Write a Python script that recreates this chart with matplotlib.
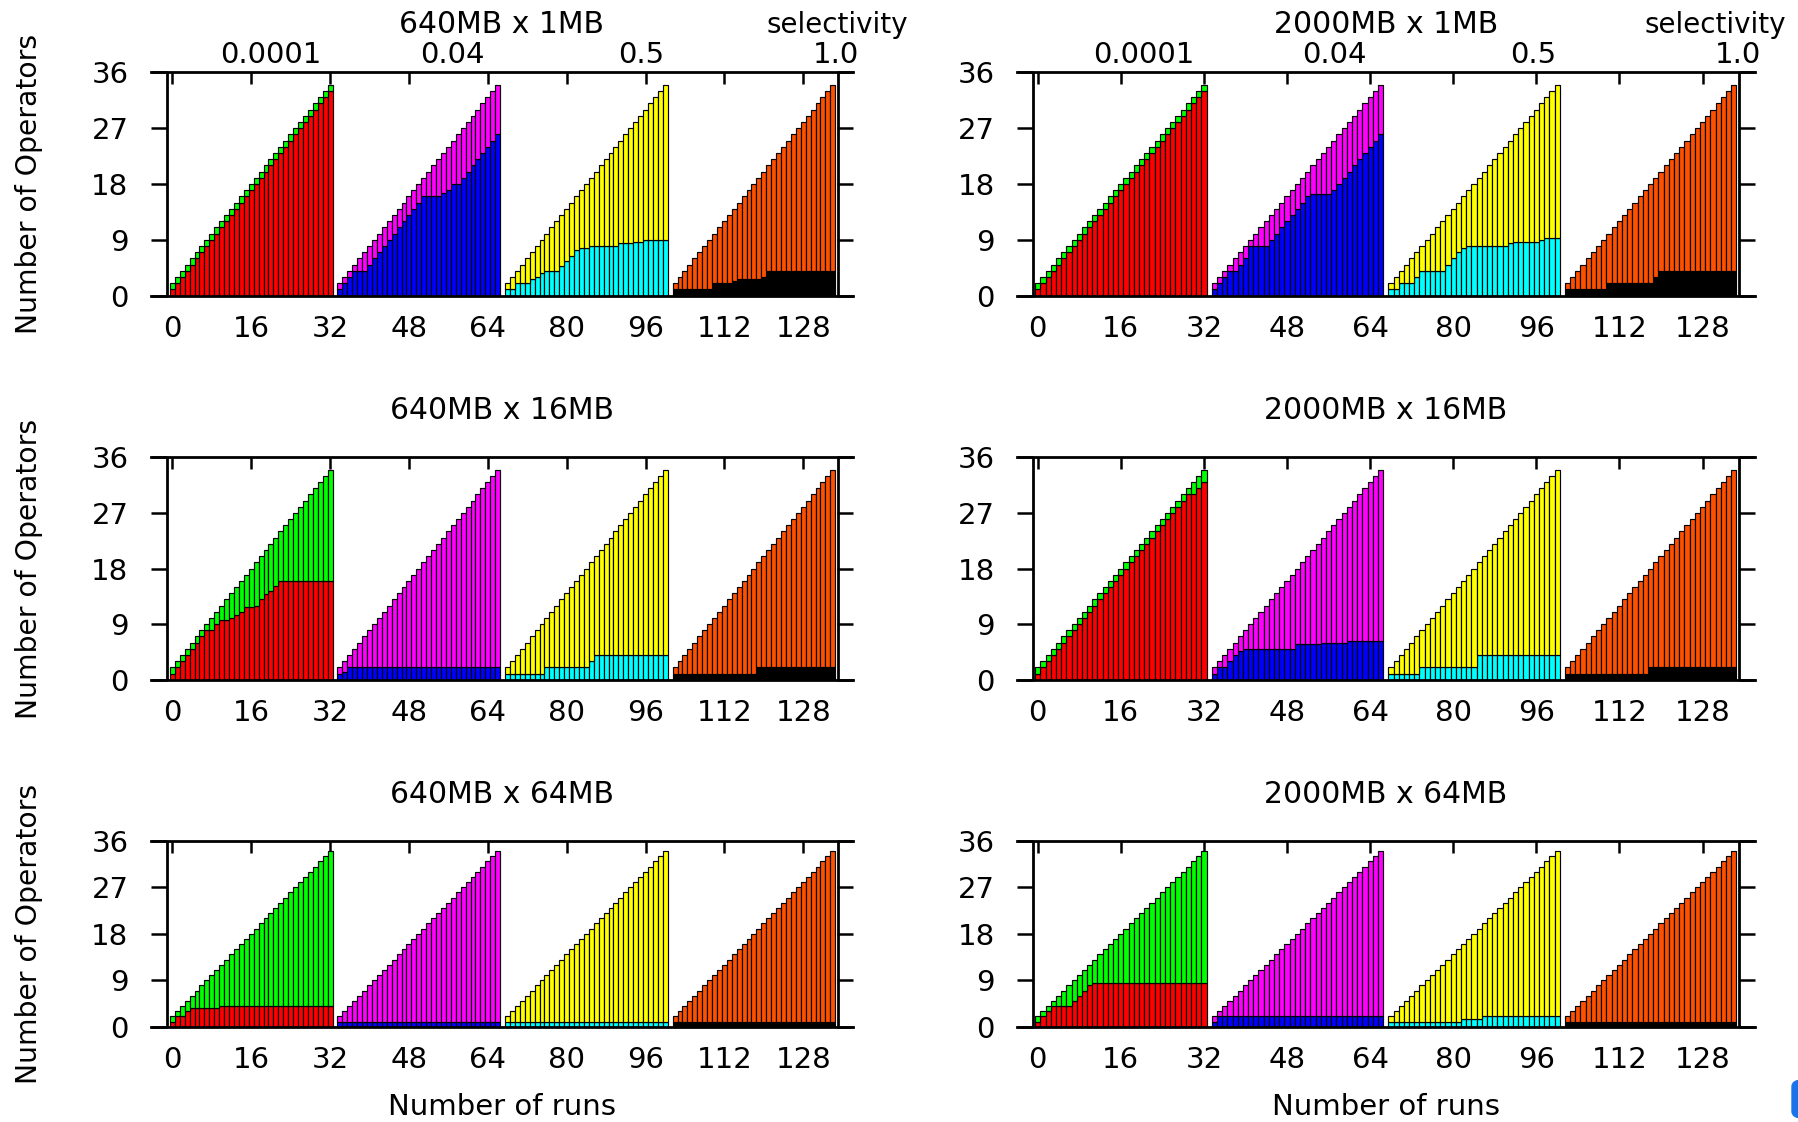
import numpy as np
import matplotlib.pyplot as plt
from matplotlib.patches import FancyBboxPatch

plt.rcParams['font.family'] = ['DejaVu Sans']

# ---------- DATA ----------
# total operators per run (same in every group)
TOTAL = [2, 3, 4, 5, 6, 7, 8, 9, 10, 11, 12, 13, 14, 15, 16, 17, 18, 19, 20, 21, 22,
         23, 24, 25, 26, 27, 28, 29, 30, 31, 32, 33, 34]
SELECTIVITY = ['0.0001', '0.04', '0.5', '1.0']
XTICKS = [0, 16, 32, 48, 64, 80, 96, 112, 128]
YTICKS = [0, 9, 18, 27, 36]
# (lower, upper) colour per selectivity group
GROUP_COLORS = [('#ff0000', '#00ff00'), ('#0000ff', '#ff00ff'),
                ('#00ffff', '#ffff00'), ('#000000', '#ff5000')]

# lower segment of each stacked bar, one list per group
a640_1_g1 = [1, 2, 3, 4, 5, 6, 7, 8, 9, 10, 11, 12, 13, 14, 15, 16, 17, 18, 19, 20, 21,
             22, 23, 24, 25, 26, 27, 28, 29, 30, 31, 32, 33]
a640_1_g2 = [1, 2, 3, 4, 4, 4, 5, 6, 7, 8, 9, 10, 11, 12, 13, 14, 15, 16, 16, 16, 16,
             16.5, 17, 18, 18, 19, 20, 21, 22, 23, 24, 25, 26]
a640_1_g3 = [1, 1, 2, 2, 2, 2.7, 3, 3.7, 4, 4, 4, 4.7, 5.6, 6.3, 7.3, 7.7, 7.7, 8, 8, 8,
             8, 8, 8, 8.4, 8.4, 8.4, 8.7, 8.7, 9, 9, 9, 9, 9]
a640_1_g4 = [1, 1, 1, 1, 1, 1, 1, 1, 2, 2, 2, 2, 2.4, 2.7, 2.7, 2.7, 2.7, 2.7, 3, 4, 4,
             4, 4, 4, 4, 4, 4, 4, 4, 4, 4, 4, 4]

a2000_1_g1 = [1, 2, 3, 4, 5, 6, 7, 8, 9, 10, 11, 12, 13, 14, 15, 16, 17, 18, 19, 20, 21,
              22, 23, 24, 25, 26, 27, 28, 29, 30, 31, 32, 33]
a2000_1_g2 = [1, 2, 3, 4, 4, 5, 6, 8, 8, 8, 8, 9, 10, 11, 12, 13, 14, 15, 16, 16.4, 16.4,
              16.4, 16.4, 17, 18, 19, 20, 21, 22, 23, 24, 25, 26]
a2000_1_g3 = [1, 1, 2, 2, 2, 3, 4, 4, 4, 4, 4, 5, 6, 7, 7.7, 8, 8, 8, 8, 8, 8, 8, 8,
              8.4, 8.7, 8.7, 8.7, 8.7, 8.7, 9, 9.3, 9.3, 9.3]
a2000_1_g4 = [1, 1, 1, 1, 1, 1, 1, 1, 2, 2, 2, 2, 2, 2, 2, 2, 2, 3, 4, 4, 4, 4, 4, 4, 4,
              4, 4, 4, 4, 4, 4, 4, 4]

a640_16_g1 = [1, 2, 3, 4, 5, 6, 7, 8, 8, 9, 9.7, 9.7, 10, 10.4, 11, 11.7, 11.7, 12, 13,
              13.8, 14.4, 15.1, 16, 16, 16, 16, 16, 16, 16, 16, 16, 16, 16]
a640_16_g2 = [1, 1.2, 2, 2, 2, 2, 2, 2, 2, 2, 2, 2, 2, 2, 2, 2, 2, 2, 2, 2, 2, 2, 2, 2,
              2, 2, 2, 2, 2, 2, 2, 2, 2]
a640_16_g3 = [1, 1, 1, 1, 1, 1, 1, 1, 2, 2, 2, 2, 2, 2, 2, 2, 2, 3, 4, 4, 4, 4, 4, 4, 4,
              4, 4, 4, 4, 4, 4, 4, 4]
a640_16_g4 = [1, 1, 1, 1, 1, 1, 1, 1, 1, 1, 1, 1, 1, 1, 1, 1, 1, 2, 2, 2, 2, 2, 2, 2, 2,
              2, 2, 2, 2, 2, 2, 2, 2]

a2000_16_g1 = [1, 2, 3, 4, 5, 6, 7, 8, 9, 10, 11, 12, 13, 14, 15, 16, 17, 18, 19, 20, 21,
               22, 23, 24, 25, 26, 27, 28, 29, 30, 30, 31, 32]
a2000_16_g2 = [1, 2, 2, 3, 4, 4.7, 5, 5, 5, 5, 5, 5, 5, 5, 5, 5, 5.8, 5.8, 5.8, 5.8, 5.8,
               6, 6, 6, 6, 6, 6.3, 6.3, 6.3, 6.3, 6.3, 6.3, 6.3]
a2000_16_g3 = [1, 1, 1, 1, 1, 1, 2, 2, 2, 2, 2, 2, 2, 2, 2, 2, 2, 4, 4, 4, 4, 4, 4, 4, 4,
               4, 4, 4, 4, 4, 4, 4, 4]
a2000_16_g4 = [1, 1, 1, 1, 1, 1, 1, 1, 1, 1, 1, 1, 1, 1, 1, 1, 2, 2, 2, 2, 2, 2, 2, 2, 2,
               2, 2, 2, 2, 2, 2, 2, 2]

a640_64_g1 = [1, 2, 2, 3, 3.6, 3.6, 3.6, 3.6, 3.6, 3.6, 4, 4, 4, 4, 4, 4, 4, 4, 4, 4, 4,
              4, 4, 4, 4, 4, 4, 4, 4, 4, 4, 4, 4]
a640_64_g2 = [1] * 33
a640_64_g3 = [1] * 33
a640_64_g4 = [1] * 33

a2000_64_g1 = [1, 2, 3, 4, 4, 4, 4, 5, 6, 7, 8, 8.5, 8.5, 8.5, 8.5, 8.5, 8.5, 8.5, 8.5,
               8.5, 8.5, 8.5, 8.5, 8.5, 8.5, 8.5, 8.5, 8.5, 8.5, 8.5, 8.5, 8.5, 8.5]
a2000_64_g2 = [1, 2, 2, 2, 2, 2, 2, 2, 2, 2, 2, 2, 2, 2, 2, 2, 2, 2, 2, 2, 2, 2, 2, 2, 2,
               2, 2, 2, 2, 2, 2, 2, 2]
a2000_64_g3 = [1, 1, 1, 1, 1, 1, 1, 1, 1, 1, 1, 1, 1, 1, 1.5, 1.5, 1.5, 1.5, 2, 2, 2, 2,
               2, 2, 2, 2, 2, 2, 2, 2, 2, 2, 2]
a2000_64_g4 = [1] * 33

TITLES = ['640MB x 1MB', '2000MB x 1MB', '640MB x 16MB', '2000MB x 16MB',
          '640MB x 64MB', '2000MB x 64MB']
LOWERS = [
    [a640_1_g1, a640_1_g2, a640_1_g3, a640_1_g4],
    [a2000_1_g1, a2000_1_g2, a2000_1_g3, a2000_1_g4],
    [a640_16_g1, a640_16_g2, a640_16_g3, a640_16_g4],
    [a2000_16_g1, a2000_16_g2, a2000_16_g3, a2000_16_g4],
    [a640_64_g1, a640_64_g2, a640_64_g3, a640_64_g4],
    [a2000_64_g1, a2000_64_g2, a2000_64_g3, a2000_64_g4],
]

# ---------- LAYOUT (pixels) ----------
W, H = 1799, 1122
fig = plt.figure(figsize=(W / 100, H / 100), dpi=100)
ROWS = [(72.4, 295.5), (457.3, 679.7), (840.7, 1026.7)]
COLS = [(150.7, 853.0, (-4.4, 138.1)), (1017.0, 1755.0, (-4.0, 138.1))]
TITLE_BASE = [33, 419, 803]          # baselines of panel titles
SEL_X = [30.2, 63.3, 99.8, 139.3]    # right ends of selectivity labels (data x)
SEL_WORD_X = [908, 1786]             # right end of "selectivity"
FS = 21

total = np.array(TOTAL, dtype=float)
for k, (title, lowers) in enumerate(zip(TITLES, LOWERS)):
    r, c = divmod(k, 2)
    y0, y1 = ROWS[r]
    x0, x1, xl = COLS[c]
    ax = fig.add_axes([x0 / W, 1 - y1 / H, (x1 - x0) / W, (y1 - y0) / H])
    for g, low in enumerate(lowers):
        low = np.array(low, dtype=float)
        xs = 34 * g + np.arange(len(total))
        cl, cu = GROUP_COLORS[g]
        ax.bar(xs, low, width=1.0, color=cl, edgecolor='black', linewidth=0.85, zorder=2)
        ax.bar(xs, total - low, bottom=low, width=1.0, color=cu, edgecolor='black',
               linewidth=0.85, zorder=2)
    ax.set_xlim(*xl)
    ax.set_ylim(0, 36)
    for s in ['left', 'right']:
        ax.spines[s].set_visible(False)
    for s in ['top', 'bottom']:
        ax.spines[s].set_linewidth(2.0)
        ax.spines[s].set_zorder(5)
    ax.axvline(-1, color='black', lw=2.0, zorder=5)
    ax.axvline(135, color='black', lw=2.0, zorder=5)
    ax.set_yticks(YTICKS)
    ax.set_xticks(XTICKS)
    ax.tick_params(axis='y', direction='in', left=True, right=True, length=11.5,
                   width=1.8, pad=16, labelsize=FS)
    ax.tick_params(axis='x', direction='in', top=True, bottom=False, labelbottom=True,
                   length=8.5, width=1.8, pad=14, labelsize=FS)
    fig.text((x0 + x1) / 2 / W, 1 - TITLE_BASE[r] / H, title, ha='center',
             va='baseline', fontsize=FS + 0.5)
    if r == 0:
        for g, lab in enumerate(SELECTIVITY):
            ax.text(SEL_X[g], 1 - (63 - y0) / (y1 - y0), lab,
                    transform=ax.get_xaxis_transform(), ha='right', va='baseline',
                    fontsize=FS)
        fig.text(SEL_WORD_X[c] / W, 1 - 33 / H, 'selectivity', ha='right',
                 va='baseline', fontsize=FS - 1)
    if c == 0:
        fig.text(28.7 / W, 1 - (y0 + y1) / 2 / H, 'Number of Operators', rotation=90,
                 ha='center', va='center', fontsize=20.3)
    if r == 2:
        fig.text((x0 + x1) / 2 / W, 1 - 1115 / H, 'Number of runs', ha='center',
                 va='baseline', fontsize=FS)

# stray UI blob at bottom-right edge of the original screenshot
fig.patches.append(FancyBboxPatch((1792 / W, 1 - 1118 / H), 20 / W, 38 / H,
                                  boxstyle='round,pad=0,rounding_size=0.006',
                                  transform=fig.transFigure, color='#1a73e8'))

fig.savefig('out.png', dpi=100)
